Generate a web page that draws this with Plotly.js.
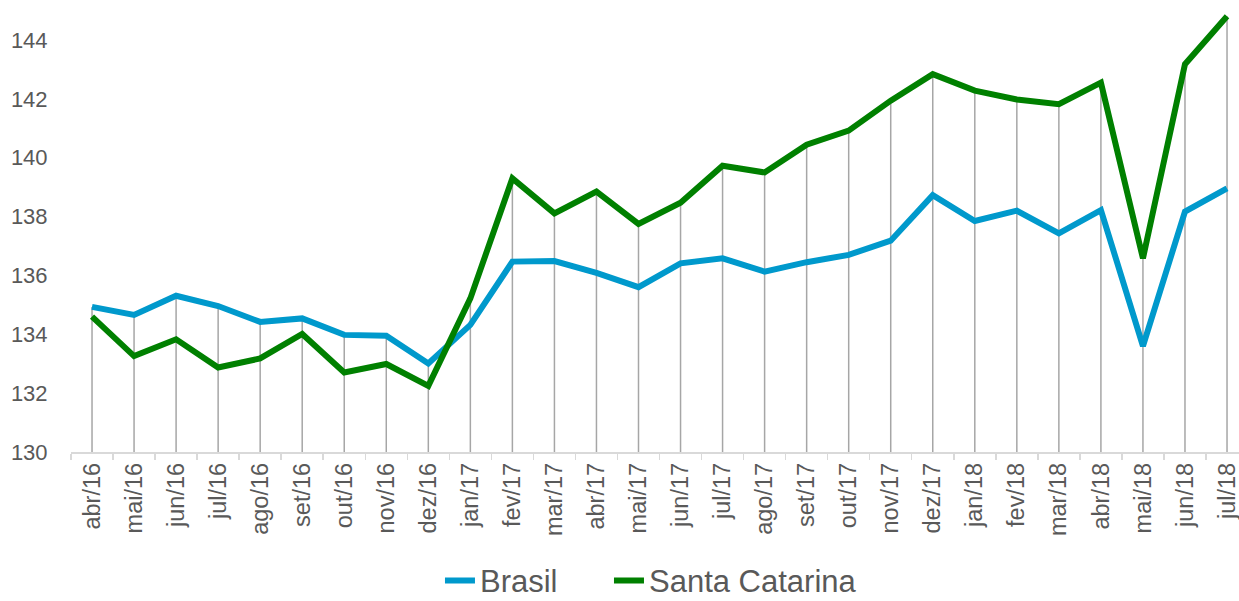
<!DOCTYPE html>
<html>
<head>
<meta charset="utf-8">
<script src="https://cdn.plot.ly/plotly-3.0.1.min.js"></script>
<style>
html,body{margin:0;padding:0;background:#fff;}
#chart{width:1239px;height:601px;}
</style>
</head>
<body>
<div id="chart"></div>
<script>
const months = ["abr/16","mai/16","jun/16","jul/16","ago/16","set/16","out/16","nov/16","dez/16",
  "jan/17","fev/17","mar/17","abr/17","mai/17","jun/17","jul/17","ago/17","set/17","out/17","nov/17","dez/17",
  "jan/18","fev/18","mar/18","abr/18","mai/18","jun/18","jul/18"];
const brasil = [134.93,134.66,135.31,134.96,134.42,134.54,133.98,133.95,133.01,
  134.32,136.47,136.49,136.09,135.60,136.41,136.58,136.13,136.45,136.70,137.18,138.73,
  137.85,138.20,137.43,138.22,133.60,138.17,138.96];
const santaCatarina = [134.60,133.26,133.83,132.87,133.18,134.01,132.70,132.99,132.25,
  135.22,139.30,138.11,138.85,137.75,138.47,139.73,139.50,140.44,140.92,141.94,142.84,
  142.28,141.98,141.82,142.55,136.58,143.18,144.81];
const yTicks = [130,132,134,136,138,140,142,144];
const axisBase = 130;

// drop lines from the highest series value down to the axis
const dropX = [], dropY = [];
months.forEach((m, i) => {
  dropX.push(m, m, null);
  dropY.push(axisBase, Math.max(brasil[i], santaCatarina[i]), null);
});

const traces = [
  {x: dropX, y: dropY, type: 'scatter', mode: 'lines', showlegend: false, hoverinfo: 'skip',
   line: {color: '#A6A6A6', width: 1.5}},
  {x: months, y: brasil, name: 'Brasil', type: 'scatter', mode: 'lines', legend: 'legend',
   line: {color: '#0099CC', width: 6}},
  {x: months, y: santaCatarina, name: 'Santa Catarina', type: 'scatter', mode: 'lines', legend: 'legend2',
   line: {color: '#008000', width: 6}}
];

const legendFont = {family: 'Liberation Sans, Arial, sans-serif', size: 31, color: '#595959'};

const layout = {
  width: 1239, height: 601,
  margin: {l: 71, r: 0, t: 5, b: 149, autoexpand: false},
  paper_bgcolor: '#ffffff', plot_bgcolor: '#ffffff',
  font: {family: 'Liberation Sans, Arial, sans-serif', color: '#595959'},
  xaxis: {
    type: 'category', range: [-0.5, 27.285],
    showline: true, linecolor: '#D9D9D9', linewidth: 1.5,
    ticks: 'outside', tickson: 'boundaries', ticklen: 6, tickcolor: '#D9D9D9', tickwidth: 1.5,
    tickangle: -90, tickfont: {size: 23.5, color: '#595959'},
    showgrid: false, zeroline: false, automargin: false
  },
  yaxis: {
    range: [130, 145.19], tickvals: yTicks, ticktext: yTicks.map(String),
    showline: false, showgrid: false, zeroline: false,
    ticks: 'outside', ticklen: 18, tickcolor: 'rgba(0,0,0,0)',
    tickfont: {size: 22, color: '#595959'}, automargin: false
  },
  showlegend: true,
  legend: {
    orientation: 'h', x: 0.3159, xanchor: 'left', y: -0.288, yanchor: 'middle',
    font: legendFont, bgcolor: 'rgba(0,0,0,0)'
  },
  legend2: {
    orientation: 'h', x: 0.4606, xanchor: 'left', y: -0.288, yanchor: 'middle',
    font: legendFont, bgcolor: 'rgba(0,0,0,0)'
  }
};

Plotly.newPlot('chart', traces, layout, {displayModeBar: false, staticPlot: true});
</script>
</body>
</html>
